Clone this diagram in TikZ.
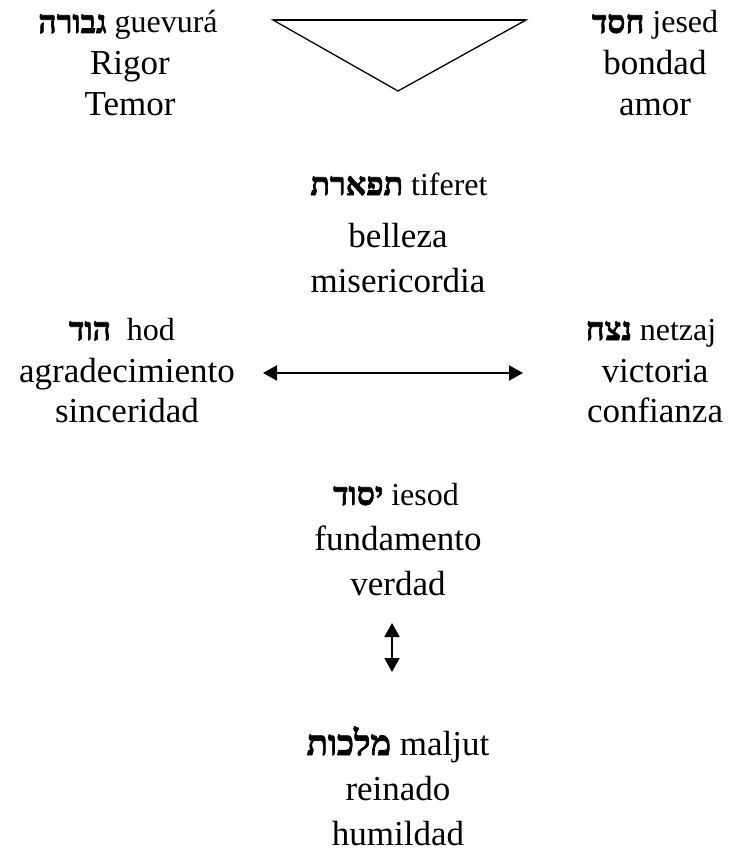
\documentclass[tikz,border=0pt]{standalone}
\usepackage{fontspec}
\setmainfont{Liberation Serif}
\newfontfamily\hebfont[Script=Hebrew,FakeBold=2]{Liberation Serif Bold}
\TeXXeTstate=1
\usetikzlibrary{arrows.meta}
\begin{document}
\begin{tikzpicture}[x=1pt,y=-1pt,
  body/.style={anchor=base,inner sep=0pt,font=\fontsize{35}{40}\selectfont},
  head/.style={anchor=base,inner sep=0pt,font=\fontsize{32}{38}\selectfont},
  link/.style={line width=2pt,{Triangle[length=14pt,width=15pt]}-{Triangle[length=14pt,width=15pt]}}]
\useasboundingbox (0,0) rectangle (737,856);
\newcommand{\heb}[1]{{\hebfont\beginR #1\endR}}
% gevura
\node[head] (gev) at (128,33) {\heb{גבורה} guevurá};
\node[body] (rig) at (130,75) {Rigor};
\node[body] (tem) at (130,116) {Temor};
% jesed
\node[head] (jes) at (655,33) {\heb{חסד} jesed};
\node[body] (bon) at (655,75) {bondad};
\node[body] (amo) at (655,116) {amor};
% triangle
\coordinate (tl) at (273,20);
\coordinate (tr) at (526,20);
\coordinate (tb) at (398,91);
\draw[line width=1.3pt,line join=miter] (tl) -- (tr) -- (tb) -- cycle;
\draw[line width=2pt] (tl) -- (tr);
% tiferet
\node[head] (tif) at (399,195) {\heb{תפארת} tiferet};
\node[body] (bel) at (398,247) {belleza};
\node[body] (mis) at (398,292) {misericordia};
% hod
\node[head] (hod) at (122,340) {\heb{הוד}\ \ hod};
\node[body] (agr) at (127,382) {agradecimiento};
\node[body] (sin) at (127,422) {sinceridad};
% netzaj
\node[head] (net) at (651,340) {\heb{נצח} netzaj};
\node[body] (vic) at (655,382) {victoria};
\node[body] (con) at (655,422) {confianza};
\coordinate (hl) at (263,373);
\coordinate (hr) at (523,373);
\draw[link] (hl) -- (hr);
% iesod
\node[head] (ies) at (396,505) {\heb{יסוד} iesod};
\node[body] (fun) at (398,550) {fundamento};
\node[body] (ver) at (398,595) {verdad};
\coordinate (vt) at (392,623);
\coordinate (vb) at (392,672);
\draw[link] (vt) -- (vb);
% maljut
\node[body] (mal) at (398,755) {\heb{מלכות} maljut};
\node[body] (rei) at (398,800) {reinado};
\node[body] (hum) at (398,845) {humildad};
\end{tikzpicture}
\end{document}
